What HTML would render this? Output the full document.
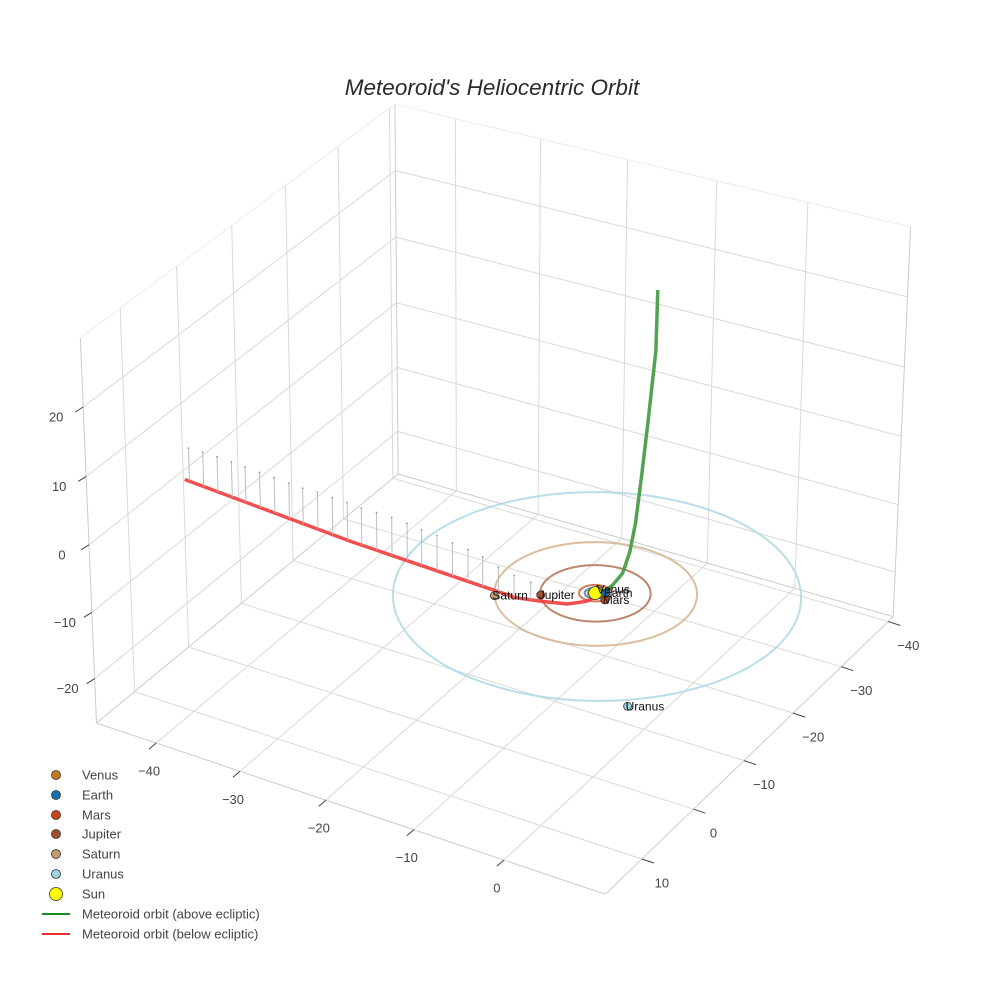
<!DOCTYPE html>
<html><head><meta charset="utf-8"><title>Meteoroid's Heliocentric Orbit</title>
<style>
html,body{margin:0;padding:0;background:#fff;}
svg{display:block;font-family:"Liberation Sans",Arial,sans-serif;}
</style></head>
<body>
<svg id="chart" width="984" height="984" viewBox="0 0 984 984">
<rect x="0" y="0" width="984" height="984" fill="#fff"/>
<text x="492" y="95" text-anchor="middle" font-size="22.5" font-style="italic" fill="#2a2a2a">Meteoroid's Heliocentric Orbit</text>
<g id="grid"></g>
<g id="axes"></g>
<g id="orbits"></g>
<g id="paths"></g>
<g id="bodies"></g>
<g id="legend">
  <circle cx="56" cy="775" r="4.5" fill="#c47a1c" stroke="#333" stroke-width="0.8"/>
  <text x="82" y="779.5" font-size="13" fill="#444">Venus</text>
  <circle cx="56" cy="795" r="4.5" fill="#1570b0" stroke="#333" stroke-width="0.8"/>
  <text x="82" y="799.5" font-size="13" fill="#444">Earth</text>
  <circle cx="56" cy="815" r="4.5" fill="#c8451a" stroke="#333" stroke-width="0.8"/>
  <text x="82" y="819.5" font-size="13" fill="#444">Mars</text>
  <circle cx="56" cy="834" r="4.5" fill="#a0522d" stroke="#333" stroke-width="0.8"/>
  <text x="82" y="838.5" font-size="13" fill="#444">Jupiter</text>
  <circle cx="56" cy="854" r="4.5" fill="#c49a6c" stroke="#333" stroke-width="0.8"/>
  <text x="82" y="858.5" font-size="13" fill="#444">Saturn</text>
  <circle cx="56" cy="874" r="4.5" fill="#9dd0e0" stroke="#333" stroke-width="0.8"/>
  <text x="82" y="878.5" font-size="13" fill="#444">Uranus</text>
  <circle cx="56" cy="894" r="6.5" fill="#ffff00" stroke="#333" stroke-width="0.8"/>
  <text x="82" y="898.5" font-size="13" fill="#444">Sun</text>
  <line x1="42" y1="914" x2="70" y2="914" stroke="#1e8c1e" stroke-width="2"/>
  <text x="82" y="918.5" font-size="13" fill="#444">Meteoroid orbit (above ecliptic)</text>
  <line x1="42" y1="934" x2="70" y2="934" stroke="#e8302e" stroke-width="2"/>
  <text x="82" y="938.5" font-size="13" fill="#444">Meteoroid orbit (below ecliptic)</text>
</g>
</svg>
<script>
// ---------- data ----------
const xTicks = [-40, -30, -20, -10, 0];
const yTicks = [10, 0, -10, -20, -30, -40];
const zTicks = [20, 10, 0, -10, -20];
const planetNames = ["Venus", "Earth", "Mars", "Jupiter", "Saturn", "Uranus"];
const orbitRadii = [0.72, 1.0, 1.52, 5.2, 9.54, 19.2];
const planetX = [-0.05, 0.85, 1.38, -4.27, -8.0, 12.5];
const planetY = [-0.72, -0.53, 0.63, 2.89, 5.2, 16.0];
const planetColors = ["#c47a1c", "#1570b0", "#c8451a", "#a0522d", "#c49a6c", "#9dd0e0"];
const orbitColors = ["#d08a3a", "#3a88c0", "#d0603a", "#b07055", "#d2b48c", "#add8e6"];
const sunX = [0], sunY = [0], sunZ = [0];
// meteoroid below ecliptic (red)
const redX = [-46.6, -26.0, -6.7, -3.9, -1.5, -0.1, 0.4];
const redY = [0.7, 2.2, 3.4, 3.3, 2.6, 1.5, 0.4];
const redZ = [-0.6, -1.1, -1.0, -0.5, -0.4, -0.2, 0.0];
// meteoroid above ecliptic (green)
const greenX = [0.4, 0.5, 1.2, 1.8, 2.2, 2.6, 2.9, 2.9, 0.0, -5.1];
const greenY = [0.4, 0.05, -1.1, -2.0, -2.6, -2.9, -3.3, -4.4, -11.0, -20.5];
const greenZ = [0.0, 0.1, 0.8, 2.2, 5.0, 9.0, 15.0, 22.0, 27.0, 28.0];
// stems along red path (x positions and heights toward ecliptic)
const redStemX = [-46, -44.2, -42.4, -40.6, -38.9, -37.1, -35.3, -33.5, -31.8, -30.0, -28.2, -26.4, -24.7, -22.9, -21.1, -19.3, -17.6, -15.8, -14.0, -12.2, -10.5, -8.7, -6.9, -5.1];
const redStemH = [4.9, 5.1, 5.2, 5.2, 5.2, 5.2, 5.2, 5.2, 5.2, 5.4, 5.4, 5.5, 5.4, 5.5, 5.5, 5.4, 5.2, 5.1, 4.8, 4.6, 4.2, 3.5, 3.1, 2.5];
const greenStemZ = [4, 6, 8, 10, 12, 14, 16, 18, 20, 22, 24, 26];

// ---------- projection (calibrated from box corners) ----------
const cornersN = [[0,0,0,397,474],[0,1,0,99,726],[1,1,0,602,895],[1,0,0,895,613],[0,0,1,393,105],[0,1,1,81,334],[1,0,1,912,230]];
function solve(A, b) {
  const n = b.length; const M = A.map((r, i) => r.concat([b[i]]));
  for (let c = 0; c < n; c++) {
    let p = c; for (let r = c + 1; r < n; r++) if (Math.abs(M[r][c]) > Math.abs(M[p][c])) p = r;
    [M[c], M[p]] = [M[p], M[c]];
    for (let r = 0; r < n; r++) if (r !== c) { const f = M[r][c] / M[c][c]; for (let k = c; k <= n; k++) M[r][k] -= f * M[c][k]; }
  }
  return M.map((r, i) => r[n] / r[i]);
}
const rows = [], rhs = [];
cornersN.forEach(([X, Y, Z, x, y]) => {
  rows.push([X, Y, Z, 1, 0, 0, 0, 0, -x * X, -x * Y, -x * Z]); rhs.push(x);
  rows.push([0, 0, 0, 0, X, Y, Z, 1, -y * X, -y * Y, -y * Z]); rhs.push(y);
});
const AtA = [], Atb = [];
for (let i = 0; i < 11; i++) { AtA.push(new Array(11).fill(0)); Atb.push(0); }
rows.forEach((r, k) => { for (let i = 0; i < 11; i++) { Atb[i] += r[i] * rhs[k]; for (let j = 0; j < 11; j++) AtA[i][j] += r[i] * r[j]; } });
const H = solve(AtA, Atb);
function projN(u, v, w) {
  const d = H[8] * u + H[9] * v + H[10] * w + 1;
  return [(H[0] * u + H[1] * v + H[2] * w + H[3]) / d, (H[4] * u + H[5] * v + H[6] * w + H[7]) / d];
}
function fitRange(ticks, edge) {
  const ts = ticks.map(([val, px, py]) => {
    let best = 0, bd = 1e9;
    for (let i = 0; i <= 2000; i++) { const t = i / 2000; const p = projN(...edge(t)); const dd = (p[0] - px) ** 2 + (p[1] - py) ** 2; if (dd < bd) { bd = dd; best = t; } }
    return best;
  });
  const n = ts.length; const mt = ts.reduce((a, b) => a + b) / n; const mv = ticks.reduce((a, b) => a + b[0], 0) / n;
  let sxy = 0, sxx = 0; ts.forEach((t, i) => { sxy += (t - mt) * (ticks[i][0] - mv); sxx += (t - mt) ** 2; });
  const b = sxy / sxx, a = mv - b * mt; return [a, a + b];
}
const xTickPx = [[-40,155,743],[-30,240,772],[-20,327,802],[-10,413,832],[0,502,862]];
const yTickPx = [[10,647,863],[0,695,812],[-10,745,762],[-20,793,713],[-30,842,667],[-40,887,620]];
const zTickPx = [[20,84,406],[10,88,477],[0,91,545],[-10,94,614],[-20,97,677]];
const [xmin, xmax] = fitRange(xTickPx, t => [t, 1, 0]);
const [ymin, ymax] = fitRange(yTickPx, t => [1, t, 0]);
const [zmin, zmax] = fitRange(zTickPx, t => [0, 1, t]);
function P(x, y, z) { return projN((x - xmin) / (xmax - xmin), (y - ymin) / (ymax - ymin), (z - zmin) / (zmax - zmin)); }

const NS = "http://www.w3.org/2000/svg";
function mk(tag, attrs, parent) { const e = document.createElementNS(NS, tag); for (const k in attrs) e.setAttribute(k, attrs[k]); parent.appendChild(e); return e; }
function seg(a, b, style, parent, name) {
  const p = P(...a), q = P(...b);
  const el = mk("line", Object.assign({ x1: p[0].toFixed(1), y1: p[1].toFixed(1), x2: q[0].toFixed(1), y2: q[1].toFixed(1) }, style), parent);
  
  
  return el;
}
const G = document.getElementById("grid"), AX = document.getElementById("axes");
const gs = { stroke: "#d9d9d9", "stroke-width": 1 };
yTicks.forEach(y => seg([xmin, y, zmin], [xmin, y, zmax], gs, G, "grid-left-wall-y"));
zTicks.forEach(z => seg([xmin, ymin, z], [xmin, ymax, z], gs, G, "grid-left-wall-z"));
xTicks.forEach(x => seg([x, ymin, zmin], [x, ymin, zmax], gs, G, "grid-back-wall-x"));
zTicks.forEach(z => seg([xmin, ymin, z], [xmax, ymin, z], gs, G, "grid-back-wall-z"));
xTicks.forEach(x => seg([x, ymin, zmin], [x, ymax, zmin], gs, G, "grid-floor-x"));
yTicks.forEach(y => seg([xmin, y, zmin], [xmax, y, zmin], gs, G, "grid-floor-y"));
const es = { stroke: "#cccccc", "stroke-width": 1 }, et = { stroke: "#ececec", "stroke-width": 1 };
seg([xmin, ymin, zmin], [xmin, ymax, zmin], es, AX, "edge-floor-left");
seg([xmin, ymax, zmin], [xmax, ymax, zmin], es, AX, "x-axis-line");
seg([xmax, ymax, zmin], [xmax, ymin, zmin], es, AX, "y-axis-line");
seg([xmax, ymin, zmin], [xmin, ymin, zmin], es, AX, "edge-floor-back");
seg([xmin, ymax, zmin], [xmin, ymax, zmax], es, AX, "z-axis-line");
seg([xmin, ymin, zmin], [xmin, ymin, zmax], es, AX, "edge-back-vertical");
seg([xmax, ymin, zmin], [xmax, ymin, zmax], es, AX, "edge-right-vertical");
seg([xmin, ymax, zmax], [xmin, ymin, zmax], et, AX, "edge-top-left");
seg([xmin, ymin, zmax], [xmax, ymin, zmax], et, AX, "edge-top-back");
function tickLabel(pt, off, lab, name) {
  const el = mk("text", { x: (pt[0] + off[0]).toFixed(1), y: (pt[1] + off[1] + 4.5).toFixed(1), "text-anchor": "middle", "font-size": 13, fill: "#444" }, AX);
  el.textContent = String(lab).replace("-", "\u2212");
  
  
}
function tickMark(pt, d, name) {
  const el = mk("line", { x1: pt[0].toFixed(1), y1: pt[1].toFixed(1), x2: (pt[0] + d[0]).toFixed(1), y2: (pt[1] + d[1]).toFixed(1), stroke: "#444", "stroke-width": 1 }, AX);
  
  
}
xTicks.forEach(x => { const p = P(x, ymax, zmin); tickMark(p, [-7, 6], "x-tick"); tickLabel(p, [-7, 28], x, "x-tick-label"); });
yTicks.forEach(y => { const p = P(xmax, y, zmin); tickMark(p, [12, 4], "y-tick"); tickLabel(p, [20, 24], y, "y-tick-label"); });
zTicks.forEach(z => { const p = P(xmin, ymax, z); tickMark(p, [-8, 5], "z-tick"); tickLabel(p, [-27, 10], z, "z-tick-label"); });

const O = document.getElementById("orbits");
orbitRadii.forEach((r, i) => {
  const pts = [];
  for (let k = 0; k <= 180; k++) { const a = k / 180 * 2 * Math.PI; const p = P(r * Math.cos(a), r * Math.sin(a), 0); pts.push(p[0].toFixed(1) + "," + p[1].toFixed(1)); }
  const el = mk("polyline", { points: pts.join(" "), fill: "none", stroke: orbitColors[i], "stroke-width": 2, "stroke-opacity": 0.85 }, O);
  
  
});

const PG = document.getElementById("paths");
function interpAt(xs, ys, zs, key, val) {
  const arr = key === "x" ? xs : zs;
  for (let i = 0; i < arr.length - 1; i++) {
    const a = arr[i], b = arr[i + 1];
    if ((val - a) * (val - b) <= 0 && a !== b) { const t = (val - a) / (b - a); return [xs[i] + t * (xs[i + 1] - xs[i]), ys[i] + t * (ys[i + 1] - ys[i]), zs[i] + t * (zs[i + 1] - zs[i])]; }
  }
  return [xs[0], ys[0], zs[0]];
}
const redPts = redX.map((x, i) => P(x, redY[i], redZ[i]));
const red = mk("polyline", { points: redPts.map(p => p[0].toFixed(1) + "," + p[1].toFixed(1)).join(" "), fill: "none", stroke: "#f03c3c", "stroke-width": 3.5, "stroke-opacity": 0.9, "stroke-linejoin": "round" }, PG);


redStemX.forEach((sx, i) => {
  const q = interpAt(redX, redY, redZ, "x", sx);
  seg(q, [q[0], q[1], q[2] + redStemH[i]], { stroke: "#bdbdbd", "stroke-width": 1 }, PG, "red-stem");
  const t = P(q[0], q[1], q[2] + redStemH[i]);
  const d = mk("circle", { cx: t[0].toFixed(1), cy: t[1].toFixed(1), r: 0.9, fill: "#999" }, PG);
  
  
});
greenStemZ.forEach(z => {
  const q = interpAt(greenX, greenY, greenZ, "z", z);
  seg([q[0], q[1], q[2]], [q[0], q[1], q[2] - 1.2], { stroke: "#bbbbbb", "stroke-width": 1 }, PG, "green-stem");
});
const greenPts = greenX.map((x, i) => P(x, greenY[i], greenZ[i]));
const green = mk("polyline", { points: greenPts.map(p => p[0].toFixed(1) + "," + p[1].toFixed(1)).join(" "), fill: "none", stroke: "#3f9a3f", "stroke-width": 3.5, "stroke-opacity": 0.9, "stroke-linejoin": "round" }, PG);



const B = document.getElementById("bodies");
const order = [1, 0, 5, 4, 3, 2];
order.forEach(i => {
  const p = P(planetX[i], planetY[i], 0);
  const c = mk("circle", { cx: p[0].toFixed(1), cy: p[1].toFixed(1), r: 4, fill: planetColors[i], stroke: "#333", "stroke-width": 0.8 }, B);
  
  
});
const sp = P(sunX[0], sunY[0], sunZ[0]);
const sun = mk("circle", { cx: sp[0].toFixed(1), cy: sp[1].toFixed(1), r: 6.5, fill: "#ffff00", stroke: "#333", "stroke-width": 0.8 }, B);


order.forEach(i => {
  const p = P(planetX[i], planetY[i], 0);
  const t = mk("text", { x: (p[0] - 2).toFixed(1), y: (p[1] + 4).toFixed(1), "font-size": 12, fill: "#111" }, B);
  t.textContent = planetNames[i];
  
  
});
</script>
</body></html>
